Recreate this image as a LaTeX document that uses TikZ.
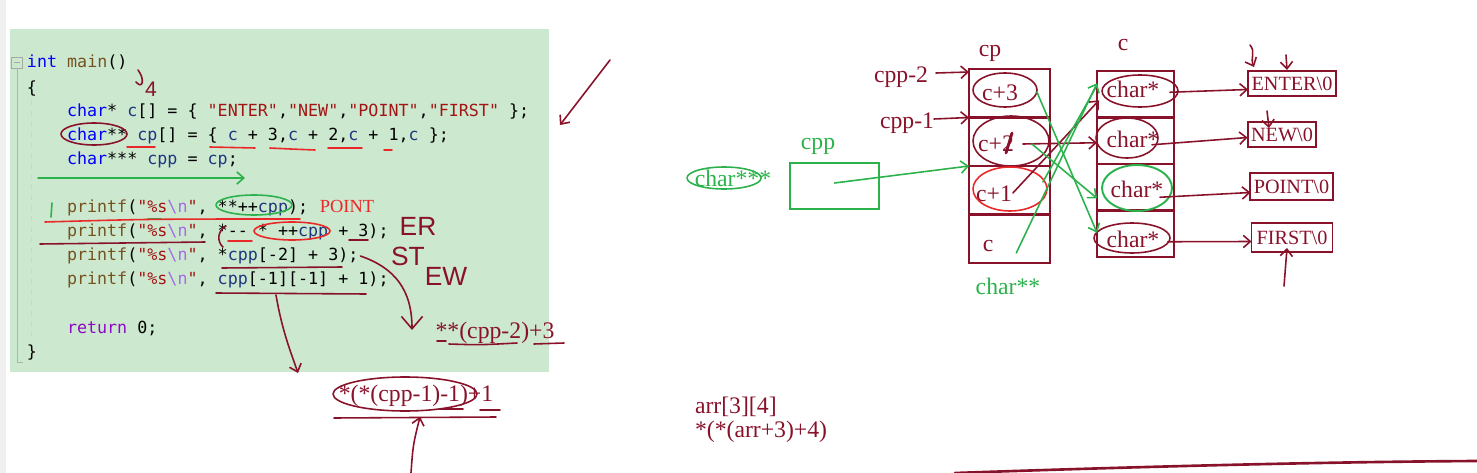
\documentclass[tikz,border=0pt]{standalone}
\usepackage{fontspec}
\setmainfont{Liberation Serif}
\setmonofont{DejaVu Sans Mono}
\newfontfamily\handfamily{Liberation Sans}
\usepackage{xcolor}
\usepackage{tikz}
\usetikzlibrary{arrows.meta,positioning,calc}
\definecolor{inkred}{RGB}{136,18,42}
\definecolor{penred}{RGB}{235,40,40}
\definecolor{pengreen}{RGB}{44,178,76}
\definecolor{editorgreen}{RGB}{204,232,207}
\definecolor{kwblue}{RGB}{0,0,255}
\definecolor{idblue}{RGB}{31,55,127}
\definecolor{fnbrown}{RGB}{116,83,31}
\definecolor{strred}{RGB}{163,21,21}
\definecolor{escpurple}{RGB}{160,110,230}
\definecolor{retpurple}{RGB}{143,8,196}
\newcommand{\ckw}[1]{\textcolor{kwblue}{#1}}
\newcommand{\cid}[1]{\textcolor{idblue}{#1}}
\newcommand{\cfn}[1]{\textcolor{fnbrown}{#1}}
\newcommand{\cstr}[1]{\textcolor{strred}{#1}}
\newcommand{\cesc}[1]{\textcolor{escpurple}{#1}}
\newcommand{\fmtstr}{\cstr{"\%s}\cesc{\textbackslash n}\cstr{"}}

\begin{document}
\begin{tikzpicture}[
    x=0.02cm, y=-0.02cm,
    every node/.style={inner sep=0pt, outer sep=0pt},
    code/.style={anchor=base west, font=\ttfamily\fontsize{9.5}{11}\selectfont},
    ink/.style={draw=inkred, line width=0.9pt, line cap=round, line join=round},
    pen/.style={draw=penred, line width=0.9pt, line cap=round},
    grn/.style={draw=pengreen, line width=0.9pt, line cap=round, line join=round},
    barb/.style={-{Straight Barb[length=4pt, width=7pt]}},
    inktext/.style={text=inkred, font=\fontsize{13.5}{15}\selectfont},
    grntext/.style={text=pengreen, font=\fontsize{13.5}{15}\selectfont},
    hand/.style={text=inkred, font=\handfamily\fontsize{15}{17}\selectfont},
    cpcell/.style={draw=inkred, line width=1.3pt, minimum width=1.62cm, minimum height=0.97cm},
    ccell/.style={draw=inkred, line width=1.3pt, minimum width=1.54cm, minimum height=0.93cm},
    strbox/.style={draw=inkred, line width=1.1pt, text=inkred, inner xsep=2pt, font=\fontsize{11.5}{13}\selectfont}
]
\useasboundingbox (0,0) rectangle (1477,473);

% editor pane
\fill[gray!12] (0,0) rectangle (6,473);
\fill[editorgreen] (10,29) rectangle (549,372);
\draw[gray!70, line width=0.5pt] (11.5,57) rectangle (22.5,68);
\draw[gray!70, line width=0.5pt] (14,62.5) -- (20,62.5);
\draw[gray!60, line width=0.5pt] (17,68) -- (17,362) -- (23,362);
\draw[gray!35, dashed, line width=0.5pt] (31,100) -- (31,340);

\node[code] (ln0) at (27,68) {\ckw{int} \cfn{main}()};
\node[code] (ln1) at (27,93) {\{};
\node[code] (ln2) at (67,116) {\ckw{char}* \cid{c}[] = \{ \cstr{"ENTER"},\cstr{"NEW"},\cstr{"POINT"},\cstr{"FIRST"} \};};
\node[code] (ln3) at (67,140) {\ckw{char}** \cid{cp}[] = \{ \cid{c} + 3,\cid{c} + 2,\cid{c} + 1,\cid{c} \};};
\node[code] (ln4) at (67,164) {\ckw{char}*** \cid{cpp} = \cid{cp};};
\node[code] (pr1) at (67,212) {\cfn{printf}(\fmtstr, **++\cid{cpp});};
\node[code] (pr2) at (67,236) {\cfn{printf}(\fmtstr, *-- * ++\cid{cpp} + 3);};
\node[code] (pr3) at (67,260) {\cfn{printf}(\fmtstr, *\cid{cpp}[-2] + 3);};
\node[code] (pr4) at (67,284) {\cfn{printf}(\fmtstr, \cid{cpp}[-1][-1] + 1);};
\node[code] (ret) at (67,333) {\textcolor{retpurple}{return} 0;};
\node[code] (ln9) at (27,357) {\}};

% pen marks on the code
\draw[ink] (138,70) .. controls (145,79) and (143,90) .. (136,82);
\node[hand, font=\handfamily\fontsize{12}{14}\selectfont] (four) at (151,89) {4};
\draw[ink] (94,134) ellipse (33 and 11);
\draw[pen] (127,147) -- (155,147);
\draw[pen] (210,147) -- (255,148);
\draw[pen] (270,148) .. controls (290,149) .. (315,150);
\draw[pen] (328,148) -- (362,148);
\draw[pen] (384,150) -- (392,150);
\coordinate (gs) at (38,178);
\coordinate (ge) at (245,178);
\draw[grn, barb] (gs) -- (ge);
\draw[grn] (52,203) -- (51,217);
\draw[grn] (254,205) ellipse (38 and 10);
\draw[grn] (148,219) -- (162,219);
\draw[pen] (45,222) .. controls (150,219) .. (300,219);
\node[text=penred, font=\fontsize{10.5}{12}\selectfont] (out1) at (347,206) {POINT};
\draw[ink] (40,244) -- (205,242);
\draw[ink] (226,226) .. controls (217,231) and (217,242) .. (223,247);
\draw[pen] (228,241) -- (252,241);
\draw[pen] (292,231) ellipse (38 and 9);
\draw[ink] (349,240) -- (368,240);
\node[hand] (er) at (418,226) {ER};
\draw[ink] (222,268) -- (342,267);
\node[hand] (st) at (408,256) {ST};
\node[hand] (ew) at (446,276) {EW};
\node[inktext] (expb) at (495,333) {**(cpp-2)+3};
\draw[ink] (437,341) -- (446,341);
\draw[ink] (449,344) .. controls (480,345) .. (517,343);
\draw[ink] (534,344) -- (564,343);
\coordinate (tipb) at (412,330);
\draw[ink, -{Straight Barb[length=7pt, width=12pt]}] ($(pr3.base east)+(2,-4)$) .. controls (395,268) and (412,290) .. (tipb);
\draw[ink] (216,293) -- (366,294);
\coordinate (tipa) at (298,373);
\draw[ink, barb] ($(pr4.base west)+(209,11)$) .. controls (282,330) and (290,350) .. (tipa);
\node[inktext] (expa) at (416,396) {*(*(cpp-1)-1)+1};
\draw[ink] (405,394) ellipse (72 and 17);
\draw[ink] (440,409) -- (463,409);
\draw[ink] (480,410) -- (500,410);
\draw[ink] (334,418) -- (496,417);
\coordinate (upa) at (411,473);
\draw[ink, barb] (upa) .. controls (413,445) .. ($(expa.south)+(4,10)$);
\coordinate (ta) at (610,60);
\coordinate (tb) at (560,125);
\draw[ink, barb] (ta) -- (tb);

% cp array
\node[inktext] (cplab) at (990,53) {cp};
\node[cpcell] (cp0) at (1009.5,93.25) {};
\node[cpcell] (cp1) at (1009.5,141.75) {};
\node[cpcell] (cp2) at (1009.5,190.25) {};
\node[cpcell] (cp3) at (1009.5,238.75) {};
\node[inktext] (cpl0) at (1000,93) {c+3};
\node[inktext] (cpl1) at (996,144) {c+2};
\node[inktext] (cpl2) at (994,194) {c+1};
\node[inktext] (cpl3) at (988,246) {c};
\draw[ink] (1005,90) ellipse (32 and 17);
\draw[ink] (1011,141) ellipse (38 and 25);
\draw[pen] (1010,189) ellipse (37 and 22);
\draw[ink, line width=1.6pt] (1012,133) -- (1006,153);
\node[grntext] (dbl) at (1008,286) {char**};
\node[inktext] (cpm2) at (901,77) {cpp-2};
\draw[ink, barb] ($(cpm2.east)+(8,-4)$) -- ($(cp0.north west)+(0,3)$);
\node[inktext] (cpm1) at (907,123) {cpp-1};
\draw[ink, barb] ($(cpm1.east)+(0,-4)$) -- (cp1.north west);

% cpp -> cp
\node[grntext] (tri) at (733,178) {char***};
\draw[grn] (724,178) ellipse (37 and 11);
\node[grntext] (cpplab) at (818,146) {cpp};
\node[draw=pengreen, line width=1.1pt, minimum width=1.78cm, minimum height=0.92cm] (cppbox) at (834.5,186) {};
\draw[grn, barb] ($(cppbox.center)+(0,-3)$) -- (cp2.north west);

% c array
\node[inktext] (clab) at (1123,45) {c};
\node[ccell] (c0) at (1135.5,94.25) {};
\node[ccell] (c1) at (1135.5,140.75) {};
\node[ccell] (c2) at (1135.5,187.25) {};
\node[ccell] (c3) at (1135.5,233.75) {};
\node[inktext] (cl0) at (1133,89) {char*};
\node[inktext] (cl1) at (1133,139) {char*};
\node[inktext] (cl2) at (1137,189) {char*};
\node[inktext] (cl3) at (1133,239) {char*};
\draw[ink] (1140,91) ellipse (38 and 16);
\draw[ink] (1127,138) ellipse (31 and 20);
\draw[grn, line width=1.1pt] (1137,188) ellipse (35 and 23);
\draw[ink] (1132,238) ellipse (38 and 15);

% cp -> c
\draw[ink, barb] ($(cpl1.east)+(9,0)$) -- ($(c1.west)+(0,2)$);
\draw[ink, barb] ($(cpl2.east)+(1,-1)$) -- ($(c0.west)+(2,6)$);
\draw[grn, barb] ($(cpl0.east)+(19,-1)$) -- ($(c3.west)+(0,-1)$);
\draw[grn, barb] ($(cpl1.east)+(18,0)$) -- ($(c2.west)+(0,11)$);
\draw[grn, barb] ($(cpl3.east)+(23,7)$) -- ($(c0.west)+(0,-11)$);
\draw[grn] ($(cpl2.east)+(31,-12)$) -- ($(c0.west)+(0,-9)$);

% strings
\node[strbox, minimum width=1.76cm, minimum height=0.5cm] (s0) at (1292,83.5) {ENTER\textbackslash 0};
\node[strbox, minimum width=1.36cm, minimum height=0.5cm] (s1) at (1282,134.5) {NEW\textbackslash 0};
\node[strbox, minimum width=1.62cm, minimum height=0.54cm] (s2) at (1291.5,186.5) {POINT\textbackslash 0};
\node[strbox, minimum width=1.62cm, minimum height=0.58cm] (s3) at (1292,237.5) {FIRST\textbackslash 0};
\draw[ink, barb] ($(c0.east)+(-4,-2)$) -- ($(s0.west)+(0,6)$);
\draw[ink, barb] ($(c1.east)+(-22,4)$) -- ($(s1.west)+(0,3)$);
\draw[ink, barb] ($(c2.east)+(-14,10)$) -- ($(s2.west)+(0,6)$);
\draw[ink, barb] ($(c3.east)+(-6,8)$) -- ($(s3.west)+(0,4)$);
\coordinate (h0) at (1250,45);
\draw[ink, barb] (h0) .. controls (1256,52) and (1250,58) .. ($(s0.north west)+(6,-4)$);
\coordinate (h1) at (1286,55);
\draw[ink, barb] (h1) -- ($(s0.north)+(-5,-1)$);
\coordinate (h2) at (1267,111);
\draw[ink, barb] (h2) -- ($(s1.north)+(-13,6)$);
\coordinate (h3) at (1284,286);
\draw[ink, barb] (h3) -- ($(s3.south)+(-5,-4)$);

% 2d array note
\node[inktext, anchor=west] (arr1) at (695,407) {arr[3][4]};
\node[inktext, anchor=west] (arr2) at (695,432) {*(*(arr+3)+4)};
\draw[ink, line width=1.5pt] (955,473) .. controls (1100,468) and (1300,462) .. (1477,461);
\end{tikzpicture}
\end{document}
